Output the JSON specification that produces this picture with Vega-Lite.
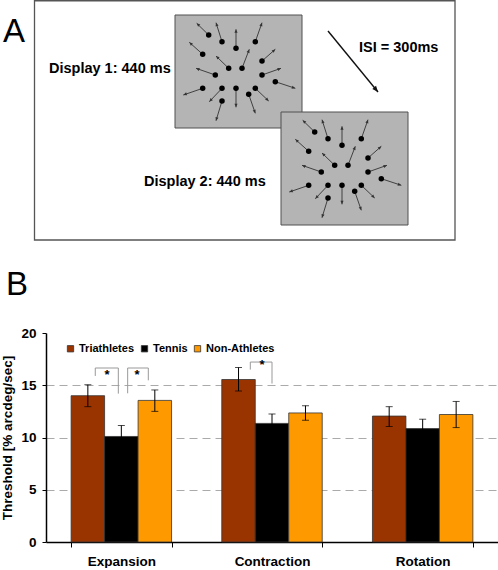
{
  "$schema": "https://vega.github.io/schema/vega-lite/v6.json",
  "padding": 0,
  "background": "white",
  "spacing": 16,
  "columns": 1,
  "align": "none",
  "resolve": {"scale": {"color": "independent"}, "legend": {"color": "independent"}},
  "config": {
    "view": {"stroke": null},
    "font": "Liberation Sans",
    "axis": {"labelFont": "Liberation Sans", "titleFont": "Liberation Sans"},
    "legend": {"labelFont": "Liberation Sans"}
  },
  "datasets": {
    "frame": [{"x1": 33.5, "y1": 0.75, "x2": 454, "y2": 240}],
    "displays": [
      {"display": "Display 1", "x1": 174, "y1": 15, "x2": 301, "y2": 128},
      {"display": "Display 2", "x1": 280, "y1": 112, "x2": 407, "y2": 225}
    ],
    "dots": [
      {"display": "Display 1", "x": 207.7, "y": 35.0, "tx": 195.7, "ty": 23.3, "angle": 314.2},
      {"display": "Display 1", "x": 221.0, "y": 41.7, "tx": 215.0, "ty": 22.7, "angle": 342.5},
      {"display": "Display 1", "x": 235.0, "y": 48.3, "tx": 235.0, "ty": 29.3, "angle": 0},
      {"display": "Display 1", "x": 254.3, "y": 41.7, "tx": 261.0, "ty": 22.7, "angle": 19.3},
      {"display": "Display 1", "x": 201.7, "y": 54.3, "tx": 188.3, "ty": 42.3, "angle": 312},
      {"display": "Display 1", "x": 227.7, "y": 68.3, "tx": 215.0, "ty": 56.0, "angle": 314.2},
      {"display": "Display 1", "x": 241.0, "y": 68.3, "tx": 248.3, "ty": 49.3, "angle": 21.1},
      {"display": "Display 1", "x": 261.0, "y": 61.0, "tx": 274.3, "ty": 49.3, "angle": 48.8},
      {"display": "Display 1", "x": 214.3, "y": 75.0, "tx": 195.0, "ty": 68.3, "angle": 289},
      {"display": "Display 1", "x": 261.0, "y": 75.0, "tx": 280.0, "ty": 68.3, "angle": 70.7},
      {"display": "Display 1", "x": 274.3, "y": 81.7, "tx": 294.3, "ty": 88.3, "angle": 108.4},
      {"display": "Display 1", "x": 201.7, "y": 88.3, "tx": 182.3, "ty": 95.0, "angle": 251},
      {"display": "Display 1", "x": 221.0, "y": 88.3, "tx": 208.3, "ty": 101.7, "angle": 223.5},
      {"display": "Display 1", "x": 235.0, "y": 88.3, "tx": 235.0, "ty": 107.3, "angle": 180},
      {"display": "Display 1", "x": 254.3, "y": 88.3, "tx": 267.7, "ty": 101.0, "angle": 133.5},
      {"display": "Display 1", "x": 221.0, "y": 101.0, "tx": 215.0, "ty": 120.7, "angle": 197},
      {"display": "Display 1", "x": 247.7, "y": 94.3, "tx": 254.3, "ty": 113.3, "angle": 160.7},
      {"display": "Display 2", "x": 313.7, "y": 132.0, "tx": 301.7, "ty": 120.3, "angle": 314.2},
      {"display": "Display 2", "x": 327.0, "y": 138.7, "tx": 321.0, "ty": 119.7, "angle": 342.5},
      {"display": "Display 2", "x": 341.0, "y": 145.3, "tx": 341.0, "ty": 126.3, "angle": 0},
      {"display": "Display 2", "x": 360.3, "y": 138.7, "tx": 367.0, "ty": 119.7, "angle": 19.3},
      {"display": "Display 2", "x": 307.7, "y": 151.3, "tx": 294.3, "ty": 139.3, "angle": 312},
      {"display": "Display 2", "x": 333.7, "y": 165.3, "tx": 321.0, "ty": 153.0, "angle": 314.2},
      {"display": "Display 2", "x": 347.0, "y": 165.3, "tx": 354.3, "ty": 146.3, "angle": 21.1},
      {"display": "Display 2", "x": 367.0, "y": 158.0, "tx": 380.3, "ty": 146.3, "angle": 48.8},
      {"display": "Display 2", "x": 320.3, "y": 172.0, "tx": 301.0, "ty": 165.3, "angle": 289},
      {"display": "Display 2", "x": 367.0, "y": 172.0, "tx": 386.0, "ty": 165.3, "angle": 70.7},
      {"display": "Display 2", "x": 380.3, "y": 178.7, "tx": 400.3, "ty": 185.3, "angle": 108.4},
      {"display": "Display 2", "x": 307.7, "y": 185.3, "tx": 288.3, "ty": 192.0, "angle": 251},
      {"display": "Display 2", "x": 327.0, "y": 185.3, "tx": 314.3, "ty": 198.7, "angle": 223.5},
      {"display": "Display 2", "x": 341.0, "y": 185.3, "tx": 341.0, "ty": 204.3, "angle": 180},
      {"display": "Display 2", "x": 360.3, "y": 185.3, "tx": 373.7, "ty": 198.0, "angle": 133.5},
      {"display": "Display 2", "x": 327.0, "y": 198.0, "tx": 321.0, "ty": 217.7, "angle": 197},
      {"display": "Display 2", "x": 353.7, "y": 191.3, "tx": 360.3, "ty": 210.3, "angle": 160.7}
    ],
    "isi": [{"x": 327, "y": 31, "tx": 377, "ty": 92, "angle": 140.7}],
    "captions": [
      {"label": "Display 1: 440 ms", "x": 48, "y": 69},
      {"label": "Display 2: 440 ms", "x": 143, "y": 182},
      {"label": "ISI = 300ms", "x": 358, "y": 48}
    ],
    "panels": [
      {"label": "A", "x": 13, "y": 31.5},
      {"label": "B", "x": 16, "y": 285}
    ],
    "bars": [
      {"motion": "Expansion", "group": "Triathletes", "value": 14.0, "lo": 12.95, "hi": 15.05},
      {"motion": "Expansion", "group": "Tennis", "value": 10.1, "lo": 9.05, "hi": 11.15},
      {"motion": "Expansion", "group": "Non-Athletes", "value": 13.55, "lo": 12.5, "hi": 14.55},
      {"motion": "Contraction", "group": "Triathletes", "value": 15.55, "lo": 14.45, "hi": 16.7},
      {"motion": "Contraction", "group": "Tennis", "value": 11.35, "lo": 10.45, "hi": 12.25},
      {"motion": "Contraction", "group": "Non-Athletes", "value": 12.35, "lo": 11.65, "hi": 13.05},
      {"motion": "Rotation", "group": "Triathletes", "value": 12.05, "lo": 11.05, "hi": 12.95},
      {"motion": "Rotation", "group": "Tennis", "value": 10.85, "lo": 9.95, "hi": 11.75},
      {"motion": "Rotation", "group": "Non-Athletes", "value": 12.2, "lo": 10.95, "hi": 13.45}
    ],
    "brackets": [
      {"x": 0.327, "x2": 0.327, "y": 16.65, "y2": 15.89},
      {"x": 0.327, "x2": 0.48, "y": 16.65, "y2": 16.65},
      {"x": 0.48, "x2": 0.48, "y": 16.65, "y2": 14.2},
      {"x": 0.542, "x2": 0.542, "y": 16.65, "y2": 14.23},
      {"x": 0.542, "x2": 0.679, "y": 16.65, "y2": 16.65},
      {"x": 0.679, "x2": 0.679, "y": 16.65, "y2": 15.47},
      {"x": 1.356, "x2": 1.356, "y": 17.22, "y2": 16.5},
      {"x": 1.356, "x2": 1.5, "y": 17.22, "y2": 17.22},
      {"x": 1.5, "x2": 1.5, "y": 17.22, "y2": 15.16}
    ],
    "stars": [
      {"label": "*", "x": 0.405, "y": 16.0},
      {"label": "*", "x": 0.604, "y": 16.0},
      {"label": "*", "x": 1.434, "y": 16.9}
    ]
  },
  "concat": [
    {
      "width": 453,
      "height": 310,
      "layer": [
        {
          "data": {"name": "frame"},
          "mark": {"type": "rect", "fillOpacity": 0, "stroke": "#555555", "strokeWidth": 1.3},
          "encoding": {
            "x": {"field": "x1", "type": "quantitative", "scale": {"domain": [45, 498], "nice": false, "zero": false}, "axis": null},
            "x2": {"field": "x2"},
            "y": {"field": "y1", "type": "quantitative", "scale": {"domain": [0, 310], "reverse": true, "nice": false, "zero": false}, "axis": null},
            "y2": {"field": "y2"}
          }
        },
        {
          "data": {"name": "displays"},
          "mark": {"type": "rect", "fill": "#b4b4b4", "stroke": "#505050", "strokeWidth": 1},
          "encoding": {
            "x": {"field": "x1", "type": "quantitative"},
            "x2": {"field": "x2"},
            "y": {"field": "y1", "type": "quantitative"},
            "y2": {"field": "y2"}
          }
        },
        {
          "data": {"name": "dots"},
          "mark": {"type": "rule", "color": "#333333", "strokeWidth": 0.9},
          "encoding": {
            "x": {"field": "x", "type": "quantitative"},
            "x2": {"field": "tx"},
            "y": {"field": "y", "type": "quantitative"},
            "y2": {"field": "ty"}
          }
        },
        {
          "data": {"name": "dots"},
          "mark": {"type": "point", "shape": "M0,0L-0.45,1L0.45,1Z", "filled": true, "color": "#333333", "opacity": 1, "size": 49, "strokeWidth": 0},
          "encoding": {
            "x": {"field": "tx", "type": "quantitative"},
            "y": {"field": "ty", "type": "quantitative"},
            "angle": {"field": "angle", "type": "quantitative", "scale": null}
          }
        },
        {
          "data": {"name": "dots"},
          "mark": {"type": "point", "shape": "circle", "filled": true, "color": "#000000", "opacity": 1, "size": 30},
          "encoding": {
            "x": {"field": "x", "type": "quantitative"},
            "y": {"field": "y", "type": "quantitative"}
          }
        },
        {
          "data": {"name": "isi"},
          "mark": {"type": "rule", "color": "#111111", "strokeWidth": 1.4},
          "encoding": {
            "x": {"field": "x", "type": "quantitative"},
            "x2": {"field": "tx"},
            "y": {"field": "y", "type": "quantitative"},
            "y2": {"field": "ty"}
          }
        },
        {
          "data": {"name": "isi"},
          "mark": {"type": "point", "shape": "M0,0L-0.4,1L0.4,1Z", "filled": true, "color": "#111111", "opacity": 1, "size": 144, "strokeWidth": 0},
          "encoding": {
            "x": {"field": "tx", "type": "quantitative"},
            "y": {"field": "ty", "type": "quantitative"},
            "angle": {"field": "angle", "type": "quantitative", "scale": null}
          }
        },
        {
          "data": {"name": "captions"},
          "mark": {"type": "text", "align": "left", "baseline": "middle", "fontSize": 14.5, "fontWeight": "bold", "color": "#000000", "font": "Liberation Sans"},
          "encoding": {
            "x": {"field": "x", "type": "quantitative"},
            "y": {"field": "y", "type": "quantitative"},
            "text": {"field": "label"}
          }
        },
        {
          "data": {"name": "panels"},
          "mark": {"type": "text", "align": "center", "baseline": "middle", "fontSize": 33, "color": "#000000", "font": "Liberation Sans"},
          "encoding": {
            "x": {"field": "x", "type": "quantitative"},
            "y": {"field": "y", "type": "quantitative"},
            "text": {"field": "label"}
          }
        }
      ]
    },
    {
      "width": 452,
      "height": 209,
      "layer": [
        {
          "data": {"name": "bars"},
          "layer": [
            {
              "mark": {"type": "bar", "stroke": "#333333", "strokeWidth": 0.8},
              "encoding": {
                "x": {
                  "field": "motion", "type": "nominal", "sort": ["Expansion", "Contraction", "Rotation"],
                  "scale": {"paddingInner": 0.3333, "paddingOuter": 0.1667},
                  "axis": {"title": null, "labelAngle": 0, "tickBand": "extent", "tickSize": 5, "tickColor": "#000000", "domainColor": "#000000", "domainWidth": 1.5, "labelFontSize": 13.5, "labelFontWeight": "bold", "labelColor": "#000000", "labelPadding": 7, "grid": false}
                },
                "xOffset": {"field": "group", "type": "nominal", "sort": ["Triathletes", "Tennis", "Non-Athletes"]},
                "y": {
                  "field": "value", "type": "quantitative", "title": "Threshold [% arcdeg/sec]",
                  "scale": {"domain": [0, 20], "nice": false},
                  "axis": {
                    "values": [0, 5, 10, 15, 20], "tickSize": 4, "tickColor": "#000000", "domainColor": "#000000", "domainWidth": 1.5,
                    "labelFontSize": 13.5, "labelFontWeight": "bold", "labelColor": "#000000", "labelPadding": 6,
                    "titleFontSize": 13.5, "titleFontWeight": "bold", "titleColor": "#000000", "titlePadding": 6, "minExtent": 0,
                    "grid": true, "gridColor": "#aaaaaa", "gridDash": [8, 5], "gridWidth": 1,
                    "gridOpacity": {"condition": {"test": "datum.value === 20 || datum.value === 0", "value": 0}, "value": 1}
                  }
                },
                "color": {
                  "field": "group", "type": "nominal",
                  "scale": {"domain": ["Triathletes", "Tennis", "Non-Athletes"], "range": ["#993300", "#000000", "#ff9900"]},
                  "legend": {
                    "title": null, "orient": "none", "legendX": 19, "legendY": 10, "direction": "horizontal",
                    "symbolType": "square", "symbolSize": 40, "symbolStrokeColor": "#333333", "symbolStrokeWidth": 0.8,
                    "labelFontSize": 11, "labelFontWeight": "bold", "labelColor": "#000000", "labelOffset": 3, "columnPadding": 4, "padding": 0
                  }
                }
              }
            },
            {
              "mark": {"type": "rule", "color": "#000000", "strokeWidth": 1},
              "encoding": {
                "x": {"field": "motion", "type": "nominal", "sort": ["Expansion", "Contraction", "Rotation"]},
                "xOffset": {"field": "group", "type": "nominal", "sort": ["Triathletes", "Tennis", "Non-Athletes"]},
                "y": {"field": "lo", "type": "quantitative", "title": "Threshold [% arcdeg/sec]"},
                "y2": {"field": "hi"}
              }
            },
            {
              "mark": {"type": "tick", "color": "#000000", "thickness": 1, "size": 7},
              "encoding": {
                "x": {"field": "motion", "type": "nominal", "sort": ["Expansion", "Contraction", "Rotation"]},
                "xOffset": {"field": "group", "type": "nominal", "sort": ["Triathletes", "Tennis", "Non-Athletes"]},
                "y": {"field": "lo", "type": "quantitative", "title": "Threshold [% arcdeg/sec]"}
              }
            },
            {
              "mark": {"type": "tick", "color": "#000000", "thickness": 1, "size": 7},
              "encoding": {
                "x": {"field": "motion", "type": "nominal", "sort": ["Expansion", "Contraction", "Rotation"]},
                "xOffset": {"field": "group", "type": "nominal", "sort": ["Triathletes", "Tennis", "Non-Athletes"]},
                "y": {"field": "hi", "type": "quantitative", "title": "Threshold [% arcdeg/sec]"}
              }
            }
          ]
        },
        {
          "layer": [
            {
              "data": {"name": "brackets"},
              "mark": {"type": "rule", "color": "#999999", "strokeWidth": 1},
              "encoding": {
                "x": {"field": "x", "type": "quantitative", "scale": {"domain": [0, 3], "nice": false, "zero": false}, "axis": null},
                "x2": {"field": "x2"},
                "y": {"field": "y", "type": "quantitative", "title": "Threshold [% arcdeg/sec]"},
                "y2": {"field": "y2"}
              }
            },
            {
              "data": {"name": "stars"},
              "mark": {"type": "text", "fontSize": 13, "fontWeight": "bold", "color": "#000000", "baseline": "middle", "align": "center", "font": "Liberation Sans"},
              "encoding": {
                "x": {"field": "x", "type": "quantitative"},
                "y": {"field": "y", "type": "quantitative", "title": "Threshold [% arcdeg/sec]"},
                "text": {"field": "label"}
              }
            }
          ]
        }
      ],
      "resolve": {"scale": {"x": "independent"}}
    }
  ]
}
